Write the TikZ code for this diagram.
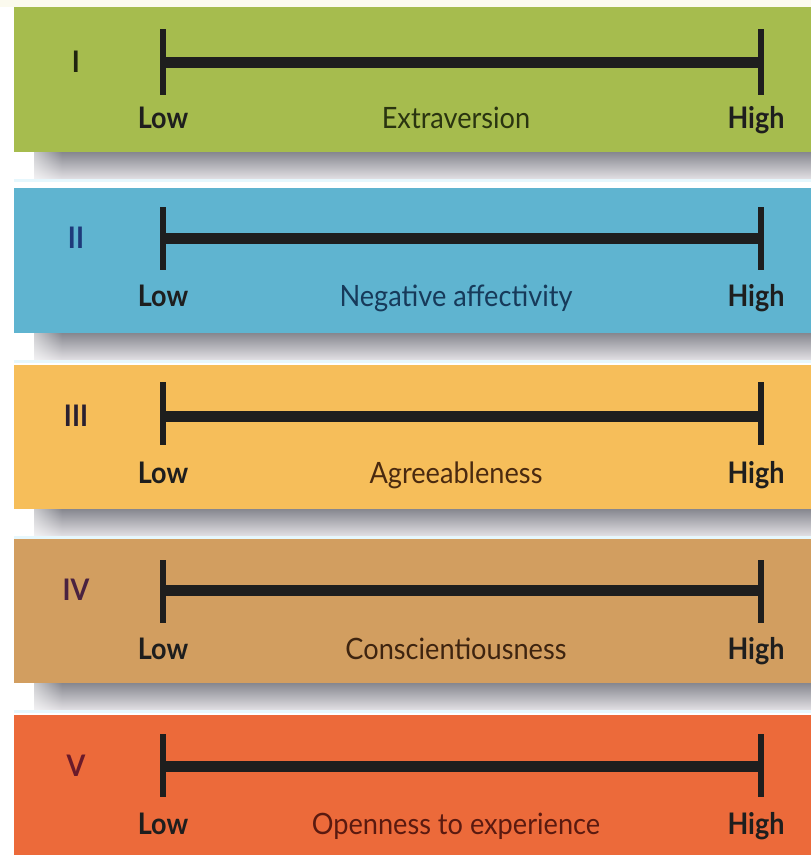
\documentclass[tikz,border=0pt]{standalone}
\usepackage{fontspec}
\usepackage{graphicx}
\usetikzlibrary{fadings}
\setmainfont{Lato}
\definecolor{bandA}{HTML}{A6BC4E}
\definecolor{bandB}{HTML}{5FB4D0}
\definecolor{bandC}{HTML}{F6BE5A}
\definecolor{bandD}{HTML}{D29E60}
\definecolor{bandE}{HTML}{EC6A3A}
\definecolor{numA}{HTML}{20240F}
\definecolor{numB}{HTML}{1E3A7A}
\definecolor{numC}{HTML}{2A2030}
\definecolor{numD}{HTML}{4A2240}
\definecolor{numE}{HTML}{6A1A2A}
\definecolor{txtA}{HTML}{2A3410}
\definecolor{txtB}{HTML}{173A5A}
\definecolor{txtC}{HTML}{4A2A10}
\definecolor{txtD}{HTML}{3E2410}
\definecolor{txtE}{HTML}{5A1A10}
\definecolor{barcol}{HTML}{1E1E1E}
\definecolor{shadetop}{HTML}{86878F}
\definecolor{shadebot}{HTML}{E2E0E4}
\definecolor{topstrip}{HTML}{FBFAEE}
\begin{document}
\begin{tikzpicture}[x=1pt,y=-1pt,
  endlab/.style={font=\fontsize{27}{27}\selectfont\bfseries, text=barcol, inner sep=0pt, anchor=base},
  midlab/.style={font=\fontsize{28}{28}\selectfont, inner sep=0pt, anchor=base},
  numlab/.style={font=\fontsize{27}{27}\selectfont\bfseries, inner sep=0pt},
  barline/.style={draw=barcol, line width=11pt},
  tickline/.style={draw=barcol, line width=6pt}]
\useasboundingbox (0,0) rectangle (811,855);
\fill[white] (0,0) rectangle (811,855);
\fill[topstrip] (0,0) rectangle (811,7);
\foreach \i/\T/\B/\ta/\tb/\by/\ly/\col/\ncol/\tcol/\num/\name in {
  1/7/152/29/95/62/128/bandA/numA/txtA/I/Extraversion,
  2/188/333/207/270/238/306/bandB/numB/txtB/II/Negative affectivity,
  3/365/509/382/445/416/483/bandC/numC/txtC/III/Agreeableness,
  4/539/683/560/623/590/659/bandD/numD/txtD/IV/Conscientiousness,
  5/715/855/734/797/766/834/bandE/numE/txtE/V/Openness to experience}
{
  \ifnum\i<5
    \shade[top color=shadetop, bottom color=shadebot] (34,\B) rectangle (811,\B+27);
    \fill[white, path fading=east] (14,\B) rectangle (62,\B+27);
    \fill[white!90!cyan] (14,\B+27) rectangle (811,\B+30);
  \fi
  \fill[\col] (14,\T) rectangle (811,\B);
  \coordinate (lo\i) at (163,\by);
  \coordinate (hi\i) at (761,\by);
  \coordinate (lot\i) at (163,\ta);
  \coordinate (lob\i) at (163,\tb);
  \coordinate (hit\i) at (761,\ta);
  \coordinate (hib\i) at (761,\tb);
  \draw[barline] (lo\i) -- (hi\i);
  \draw[tickline] (lot\i) -- (lob\i);
  \draw[tickline] (hit\i) -- (hib\i);
  \node[numlab, text=\ncol] (num\i) at (76,\by) {\scalebox{1}[1.1]{\num}};
  \node[endlab] (low\i) at (163,\ly) {\scalebox{1}[1.1]{Low}};
  \node[endlab] (high\i) at (756,\ly) {\scalebox{1}[1.1]{High}};
  \node[midlab, text=\tcol] (mid\i) at (456,\ly) {\scalebox{0.97}[1.05]{\name}};
}
\end{tikzpicture}
\end{document}
